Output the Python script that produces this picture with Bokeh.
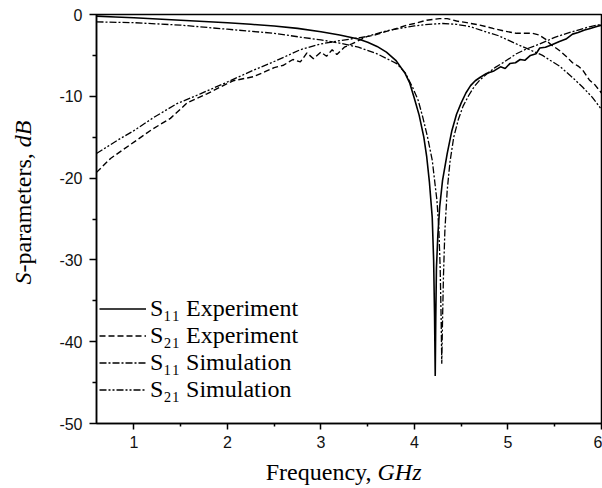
import math
from bokeh.plotting import figure
from bokeh.layouts import row, column
from bokeh.models import Range1d, FixedTicker, Legend, LegendItem, Label
from bokeh.embed import file_html
from bokeh.resources import INLINE

# ---------------- data ----------------
s11_exp_f = [0.6, 0.8, 1.0, 1.25, 1.5, 1.75, 2.0, 2.25, 2.5, 2.75, 3.0, 3.2, 3.4, 3.5, 3.6, 3.7,
             3.8, 3.9, 3.95, 4.0, 4.05, 4.1, 4.13, 4.16, 4.19, 4.205, 4.215, 4.222, 4.228, 4.235,
             4.25, 4.27, 4.3, 4.35, 4.4, 4.45, 4.5, 4.55, 4.6, 4.65, 4.7, 4.77, 4.85, 4.92, 4.97,
             5.02, 5.08, 5.13, 5.18, 5.24, 5.3, 5.34, 5.4, 5.47, 5.55, 5.62, 5.69, 5.75, 5.82,
             5.88, 5.94, 6.0]
s11_exp_db = [-0.2, -0.3, -0.4, -0.55, -0.7, -0.85, -1.0, -1.2, -1.4, -1.7, -2.1, -2.5, -3.0,
              -3.4, -3.9, -4.6, -5.6, -7.2, -8.4, -10.3, -12.3, -15.0, -17.3, -20.5, -24.8,
              -30.0, -37.0, -44.2, -37.0, -31.0, -27.0, -23.5, -20.3, -17.0, -14.2, -12.2,
              -10.8, -9.6, -8.7, -8.1, -7.7, -7.2, -6.9, -6.4, -6.6, -6.0, -5.9, -5.5, -5.6,
              -5.0, -4.8, -4.1, -4.0, -3.7, -3.3, -3.0, -2.4, -2.2, -1.9, -1.7, -1.5, -1.3]

s21_exp_f = [0.6, 0.75, 0.9, 1.05, 1.2, 1.39, 1.57, 1.78, 1.92, 2.06, 2.28, 2.42, 2.5, 2.6, 2.7,
             2.78, 2.85, 2.92, 3.0, 3.06, 3.12, 3.17, 3.25, 3.33, 3.4, 3.49, 3.58, 3.66, 3.75,
             3.84, 3.92, 4.0, 4.13, 4.27, 4.35, 4.45, 4.56, 4.7, 4.84, 4.95, 5.09, 5.18, 5.26,
             5.33, 5.4, 5.45, 5.55, 5.63, 5.69, 5.75, 5.8, 5.87, 5.93, 6.0]
s21_exp_db = [-19.3, -17.6, -16.4, -15.2, -14.0, -12.7, -10.8, -9.7, -8.9, -8.1, -7.6, -6.9,
              -6.5, -6.2, -5.5, -5.8, -4.7, -5.4, -4.6, -5.1, -4.3, -4.9, -4.0, -3.6, -3.2,
              -2.7, -2.5, -2.2, -1.9, -1.6, -1.3, -1.1, -0.7, -0.5, -0.5, -0.8, -1.0, -1.3,
              -1.7, -2.0, -2.3, -2.3, -2.3, -2.5, -3.0, -3.6, -4.4, -5.2, -5.9, -6.3, -6.8,
              -8.0, -8.6, -9.6]

s11_sim_f = [0.6, 1.0, 1.5, 2.0, 2.5, 2.8, 3.0, 3.2, 3.4, 3.6, 3.81, 3.9, 3.98, 4.04, 4.09,
             4.14, 4.19, 4.24, 4.26, 4.275, 4.285, 4.292, 4.3, 4.31, 4.325, 4.35, 4.38, 4.42,
             4.47, 4.52, 4.58, 4.64, 4.7, 4.78, 4.86, 4.96, 5.09, 5.2, 5.34, 5.5, 5.63, 5.75,
             5.87, 6.0]
s11_sim_db = [-0.9, -1.0, -1.3, -1.8, -2.3, -2.8, -3.1, -3.5, -4.0, -4.8, -6.0, -7.1, -8.9,
              -10.5, -12.6, -15.0, -17.8, -22.7, -26.0, -31.0, -37.0, -42.7, -37.5, -32.0,
              -26.5, -21.5, -18.0, -15.0, -12.8, -11.2, -9.9, -8.8, -8.0, -7.2, -6.5, -5.8,
              -4.8, -4.2, -3.6, -2.8, -2.3, -1.9, -1.5, -1.2]

s21_sim_f = [0.6, 0.82, 1.0, 1.21, 1.46, 1.71, 1.99, 2.28, 2.53, 2.78, 3.0, 3.2, 3.49, 3.7,
             3.84, 4.0, 4.15, 4.3, 4.45, 4.6, 4.73, 4.9, 5.09, 5.25, 5.37, 5.45, 5.55, 5.69,
             5.8, 5.9, 6.0]
s21_sim_db = [-17.0, -15.4, -14.2, -12.6, -10.9, -9.7, -8.3, -6.8, -5.6, -4.3, -3.6, -3.2,
              -2.7, -2.0, -1.7, -1.4, -1.2, -1.1, -1.2, -1.5, -2.0, -2.6, -3.6, -4.4, -5.0,
              -5.6, -6.3, -7.7, -8.9, -10.1, -11.6]

x_ticks = [1, 2, 3, 4, 5, 6]
x_minor = [0.5, 1.5, 2.5, 3.5, 4.5, 5.5]
y_ticks = [-50, -40, -30, -20, -10, 0]
y_minor = [-45, -35, -25, -15, -5]
legend_labels = ["S\u2081\u2081 Experiment", "S\u2082\u2081 Experiment",
                 "S\u2081\u2081 Simulation", "S\u2082\u2081 Simulation"]

YT_W = 46          # width of the strip holding the y title
MAIN_W = 602 - YT_W
LEFT_B = 96 - YT_W  # so that the frame starts at x = 96

# ---------------- main figure ----------------
p = figure(width=MAIN_W, height=458, output_backend="svg", toolbar_location=None,
           x_range=Range1d(0.6, 6.0), y_range=Range1d(-50, 0),
           min_border_left=LEFT_B, min_border_right=1, min_border_top=14, min_border_bottom=35)
p.background_fill_color = "white"
p.border_fill_color = "white"
p.outline_line_color = "black"
p.outline_line_width = 1.5
p.grid.visible = False

for ax in (p.xaxis[0], p.yaxis[0]):
    ax.axis_line_color = "black"
    ax.axis_line_width = 1.5
    ax.major_tick_line_color = "black"
    ax.major_tick_line_width = 1.5
    ax.minor_tick_line_color = "black"
    ax.minor_tick_line_width = 1.5
    ax.major_tick_in = 0
    ax.minor_tick_in = 0
    ax.major_label_text_font = "Liberation Sans"
    ax.major_label_text_font_size = "16px"
    ax.major_label_text_color = "#111111"

p.xaxis.ticker = FixedTicker(ticks=x_ticks, minor_ticks=x_minor)
p.yaxis.ticker = FixedTicker(ticks=y_ticks, minor_ticks=y_minor)
p.xaxis.major_label_overrides = {t: str(t) for t in x_ticks}
p.yaxis.major_label_overrides = {t: str(t) for t in y_ticks}
p.xaxis.major_tick_out = 6
p.xaxis.minor_tick_out = 3
p.yaxis.major_tick_out = 7
p.yaxis.minor_tick_out = 4
p.xaxis.major_label_standoff = 6
p.yaxis.major_label_standoff = 7

r1 = p.line(s11_exp_f, s11_exp_db, line_color="black", line_width=1.6)
r2 = p.line(s21_exp_f, s21_exp_db, line_color="black", line_width=1.4, line_dash="6 3")
r3 = p.line(s11_sim_f, s11_sim_db, line_color="black", line_width=1.3, line_dash="7 2 2 2")
r4 = p.line(s21_sim_f, s21_sim_db, line_color="black", line_width=1.3,
            line_dash="7 2 2 2 2 2")

legend = Legend(items=[LegendItem(label=l, renderers=[r]) for l, r in
                       zip(legend_labels, [r1, r2, r3, r4])],
                location=(3, 20), orientation="vertical",
                label_text_font="Liberation Serif", label_text_font_size="24px",
                label_text_color="black", label_standoff=4,
                glyph_width=47, glyph_height=27, label_height=27,
                spacing=0, padding=0, margin=0,
                border_line_alpha=0, background_fill_alpha=0)
p.add_layout(legend)


def blank(w, h, left=0, right=0):
    f = figure(width=w, height=h, output_backend="svg", toolbar_location=None,
               x_range=(0, 1), y_range=(0, 1), x_axis_type=None, y_axis_type=None,
               min_border=0, min_border_left=left, min_border_right=right,
               min_border_top=0, min_border_bottom=0)
    f.outline_line_color = None
    f.grid.visible = False
    f.background_fill_color = "white"
    f.border_fill_color = "white"
    return f


fs = 24
font = "Liberation Serif"

# ---------------- x title (below the main figure; frame aligned with main frame) ----------------
xt = blank(MAIN_W, 30, left=LEFT_B, right=1)
junction = 371 - 96   # relative to the frame's left edge
xt.add_layout(Label(x=junction, y=17, x_units="screen", y_units="screen",
                    text="Frequency,", text_font=font, text_font_size=f"{fs}px",
                    text_align="right", text_baseline="alphabetic", text_color="black"))
xt.add_layout(Label(x=junction + 0.25 * fs, y=17, x_units="screen", y_units="screen",
                    text="GHz", text_font=font, text_font_size=f"{fs}px",
                    text_font_style="italic", text_align="left",
                    text_baseline="alphabetic", text_color="black"))

# ---------------- y title (left strip, reads bottom to top) ----------------
yt = blank(YT_W, 488)
y0 = 204
w_S = 0.5 * fs
w_mid = (333 + 500 + 444 + 333 + 444 + 778 + 444 + 278 + 444 + 333 + 389 + 250 + 250) / 1000 * fs
for txt, off, style in [("S", 0, "italic"), ("-parameters,", w_S, "normal"),
                        ("dB", w_S + w_mid, "italic")]:
    yt.add_layout(Label(x=22, y=y0 + off, x_units="screen", y_units="screen", text=txt,
                        angle=math.pi / 2, text_font=font, text_font_size=f"{fs}px",
                        text_font_style=style, text_align="left",
                        text_baseline="alphabetic", text_color="black"))

layout = row(yt, column(p, xt, spacing=0), spacing=0)
open("out.html", "w").write(file_html(layout, INLINE))
